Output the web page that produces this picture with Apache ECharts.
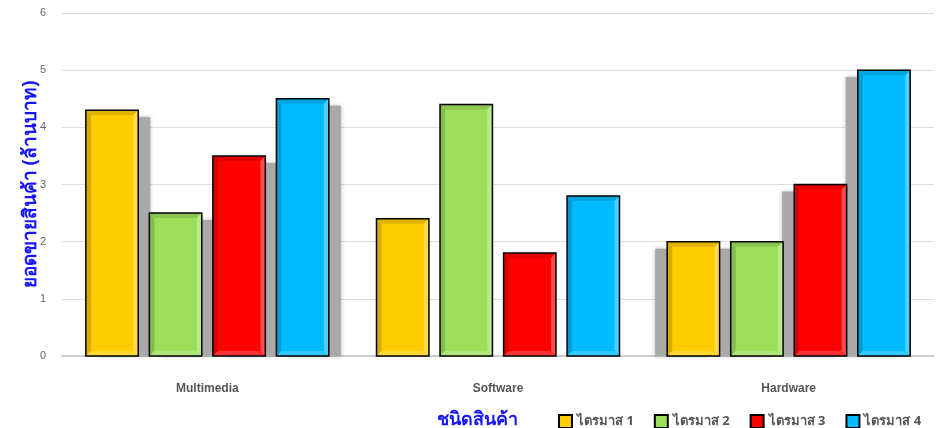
<!DOCTYPE html>
<html>
<head>
<meta charset="utf-8">
<title>ยอดขายสินค้า</title>
<script src="https://cdn.jsdelivr.net/npm/echarts@6/dist/echarts.min.js"></script>
<style>
  html, body { margin: 0; padding: 0; background: #fff; }
  #chart { width: 941px; height: 428px; }
</style>
</head>
<body>
<div id="chart"></div>
<script>
// Product categories and quarterly sales (million baht)
const categories = ['Multimedia', 'Software', 'Hardware'];
const quarterNames = ['ไตรมาส 1', 'ไตรมาส 2', 'ไตรมาส 3', 'ไตรมาส 4'];
const q1 = [4.3, 2.4, 2.0];
const q2 = [2.5, 4.4, 2.0];
const q3 = [3.5, 1.8, 3.0];
const q4 = [4.5, 2.8, 5.0];
const quarterColors = ['#FFCC00', '#9CDF5A', '#FF0000', '#00BBFF'];
const yTicks = { min: 0, max: 6, interval: 1 };

const quarterValues = [q1, q2, q3, q4];

// Shade a hex colour: f > 0 mixes toward white, f < 0 toward black
function shade(hex, f) {
  const n = parseInt(hex.slice(1), 16);
  let r = (n >> 16) & 255, g = (n >> 8) & 255, b = n & 255;
  const t = f < 0 ? 0 : 255, p = Math.abs(f);
  r = Math.round(r + (t - r) * p);
  g = Math.round(g + (t - g) * p);
  b = Math.round(b + (t - b) * p);
  return 'rgb(' + r + ',' + g + ',' + b + ')';
}

const CAT_GAP = 0.164;   // share of a category band left empty
const BAR_GAP = 0.212;   // gap between bars, relative to bar width
const BEVEL = 5;

// Beveled bar with a perspective drop shadow
function renderBar(params, api) {
  const s = params.seriesIndex;
  const cat = api.value(0);
  const val = api.value(1);
  const band = api.size([1, 0])[0];
  const n = quarterValues.length;
  const groupW = band * (1 - CAT_GAP);
  const barW = groupW / (n + (n - 1) * BAR_GAP);
  const gap = barW * BAR_GAP;
  const base = api.coord([cat, 0]);
  const top = api.coord([cat, val]);
  const x = base[0] - groupW / 2 + s * (barW + gap);
  const y = top[1];
  const h = base[1] - y;
  const w = barW;
  const c = quarterColors[s];
  const b = BEVEL;
  // shadow falls away from the centre of the plot
  const shadowDx = ((categories.length - 1) / 2 - cat) * 12;

  const children = [];
  if (shadowDx !== 0) {
    children.push({
      type: 'rect', z2: 1,
      shape: { x: x + shadowDx, y: y + 7, width: w, height: Math.max(0, h - 7) },
      style: { fill: '#a9a9a9', shadowBlur: 4, shadowColor: 'rgba(0,0,0,0.3)' }
    });
  }
  children.push({
    type: 'rect', z2: 10,
    shape: { x: x, y: y, width: w, height: h },
    style: { fill: c }
  });
  const xi = x + b, yi = y + b, xr = x + w, yb = y + h, xir = xr - b, yib = yb - b;
  // top band
  children.push({ type: 'polygon', z2: 11,
    shape: { points: [[x, y], [xr, y], [xir, yi], [xi, yi]] },
    style: { fill: shade(c, -0.12) } });
  // left band
  children.push({ type: 'polygon', z2: 11,
    shape: { points: [[x, y], [xi, yi], [xi, yib], [x, yb]] },
    style: { fill: shade(c, -0.16) } });
  // right band
  children.push({ type: 'polygon', z2: 11,
    shape: { points: [[xr, y], [xr, yb], [xir, yib], [xir, yi]] },
    style: { fill: shade(c, 0.3) } });
  // bottom band
  children.push({ type: 'polygon', z2: 11,
    shape: { points: [[x, yb], [xi, yib], [xir, yib], [xr, yb]] },
    style: { fill: shade(c, 0.2) } });
  // outline
  children.push({
    type: 'rect', z2: 12,
    shape: { x: x, y: y, width: w, height: h },
    style: { fill: 'none', stroke: '#000', lineWidth: 1.5 }
  });
  return { type: 'group', children: children };
}

const series = quarterNames.map(function (name, s) {
  return {
    name: name,
    type: 'custom',
    renderItem: renderBar,
    itemStyle: { color: quarterColors[s], borderColor: '#000', borderWidth: 1.2 },
    encode: { x: 0, y: 1 },
    data: quarterValues[s].map(function (v, i) { return [i, v]; })
  };
});

const chart = echarts.init(document.getElementById('chart'), null, { renderer: 'canvas' });
chart.setOption({
  animation: false,
  backgroundColor: '#ffffff',
  title: {
    text: 'ชนิดสินค้า',
    left: 432, top: 406,
    textStyle: { color: '#1515ff', fontSize: 18, fontWeight: 'bold', fontFamily: 'Noto Sans, sans-serif' }
  },
  legend: {
    data: quarterNames,
    left: 553, top: 409,
    icon: 'rect',
    itemWidth: 13, itemHeight: 13,
    itemGap: 20,
    textStyle: { color: '#555', fontSize: 13, fontWeight: 'bold', fontFamily: 'Noto Sans, sans-serif' }
  },
  grid: { left: 62, right: 7, top: 13, bottom: 72, containLabel: false },
  xAxis: {
    type: 'category',
    data: categories,
    axisLine: { lineStyle: { color: '#cccccc', width: 2 } },
    axisTick: { show: false },
    axisLabel: { color: '#555', fontSize: 12, fontWeight: 'bold', margin: 27, fontFamily: 'Liberation Sans, Arial, sans-serif' }
  },
  yAxis: {
    type: 'value',
    min: yTicks.min, max: yTicks.max, interval: yTicks.interval,
    name: 'ยอดขายสินค้า (ล้านบาท)',
    nameLocation: 'middle',
    nameMoveOverlap: false,
    nameGap: 22,
    nameTextStyle: { color: '#1515ff', fontSize: 19, fontWeight: 'bold', fontFamily: 'Noto Sans, sans-serif' },
    axisLine: { show: false },
    axisTick: { show: false },
    axisLabel: { color: '#666', fontSize: 11, margin: 16, fontFamily: 'Liberation Sans, Arial, sans-serif' },
    splitLine: { lineStyle: { color: '#dddddd', width: 1 } }
  },
  series: series
});
</script>
</body>
</html>
